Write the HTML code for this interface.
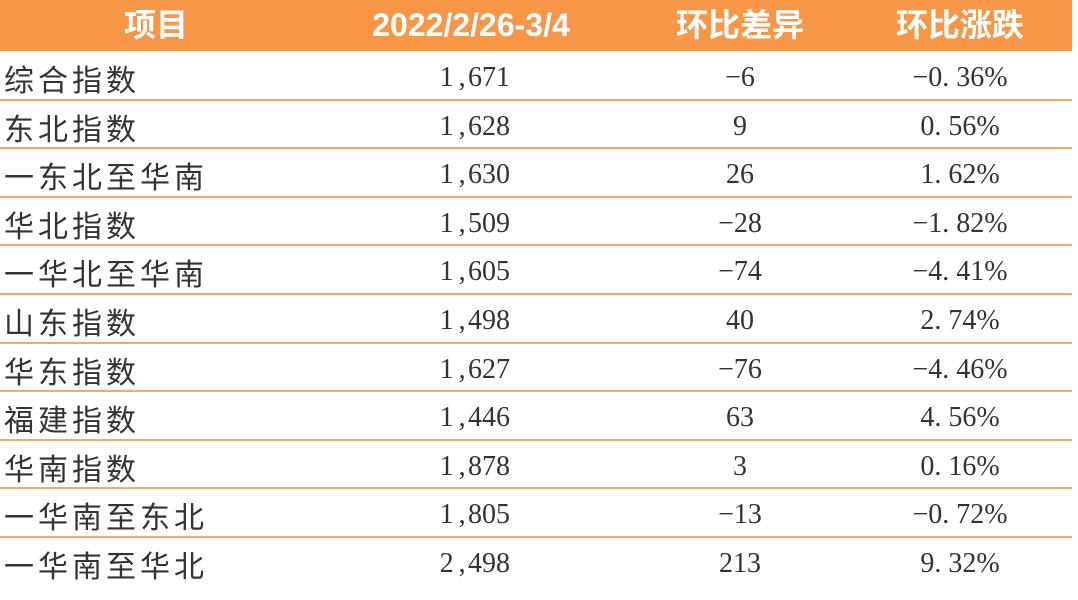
<!DOCTYPE html>
<html><head><meta charset="utf-8"><style>
body{margin:0;width:1078px;height:600px;background:#fff;overflow:hidden;position:relative;font-family:"Liberation Serif","Noto Serif CJK SC",serif;color:#333}
.hd{position:absolute;left:0;top:0;width:1072px;height:51px;background:#f79646}
.h{position:absolute;top:0;height:51px;line-height:51px;color:#fff;font-weight:bold;font-size:32px;font-family:"Liberation Sans","Noto Sans CJK SC",sans-serif;transform:translateX(-50%);white-space:nowrap}
.ln{position:absolute;left:0;width:1072px;height:2px;background:#f8a864}
.c{position:absolute;height:48px;line-height:48px;font-size:28px;white-space:nowrap}
.n{font-family:"WenQuanYi Zen Hei","Noto Sans CJK SC",sans-serif;font-size:30px;letter-spacing:4px;left:4px}
.v{right:568px;text-align:right}
.d{left:740px;transform:translateX(-50%)}
.p{left:960px;transform:translateX(-50%)}
.cm{display:inline-block;width:12px;overflow:hidden;vertical-align:top}
</style></head><body>
<div class="hd"></div>
<div class="h" style="left:156px">项目</div>
<div class="h" style="left:471px">2022/2/26-3/4</div>
<div class="h" style="left:740px">环比差异</div>
<div class="h" style="left:960px">环比涨跌</div>
<div id="rows"></div>
<script>
var d=[["综合指数","1,671","−6","−0. 36%"],["东北指数","1,628","9","0. 56%"],["一东北至华南","1,630","26","1. 62%"],["华北指数","1,509","−28","−1. 82%"],["一华北至华南","1,605","−74","−4. 41%"],["山东指数","1,498","40","2. 74%"],["华东指数","1,627","−76","−4. 46%"],["福建指数","1,446","63","4. 56%"],["华南指数","1,878","3","0. 16%"],["一华南至东北","1,805","−13","−0. 72%"],["一华南至华北","2,498","213","9. 32%"]];
var h="";
for(var i=0;i<d.length;i++){var t=51+i*48.6;var tt=t+3;
var v=d[i][1].replace(",",'<span class="cm">,</span>&#8202;');
h+='<div class="c n" style="top:'+tt+'px">'+d[i][0]+'</div>';
h+='<div class="c v" style="top:'+tt+'px">'+v+'</div>';
h+='<div class="c d" style="top:'+tt+'px">'+d[i][2]+'</div>';
h+='<div class="c p" style="top:'+tt+'px">'+d[i][3]+'</div>';
if(i<d.length-1)h+='<div class="ln" style="top:'+(t+47.6)+'px"></div>';}
document.getElementById("rows").innerHTML=h;
</script>
</body></html>
